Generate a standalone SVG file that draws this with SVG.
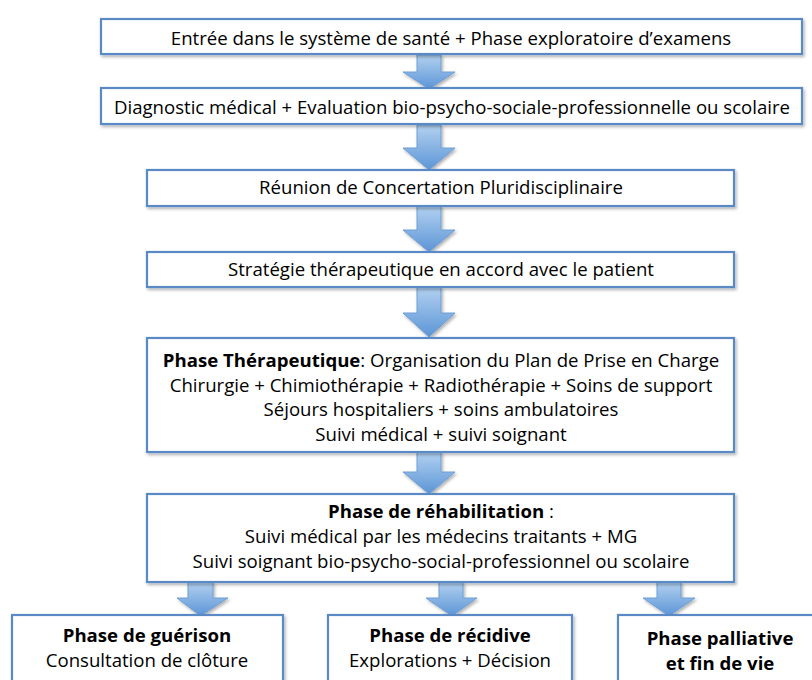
<svg xmlns="http://www.w3.org/2000/svg" width="812" height="680" viewBox="0 0 812 680">
<defs>
<filter id="sh" x="-10%" y="-10%" width="120%" height="130%">
<feDropShadow dx="1.5" dy="2" stdDeviation="1.5" flood-color="#000" flood-opacity="0.3"/>
</filter>
<linearGradient id="ag" x1="0" y1="0" x2="0" y2="1">
<stop offset="0" stop-color="#b3d1f0"/>
<stop offset="1" stop-color="#5b95d6"/>
</linearGradient>
<style>
.box{fill:#fff;stroke:#5a8ac6;stroke-width:2.2;filter:url(#sh)}
.arr{fill:url(#ag);stroke:#6f9ed6;stroke-width:1;filter:url(#sh)}
text{font-family:"Open Sans",Lato,"Liberation Sans",sans-serif;font-size:18.6px;fill:#000;text-anchor:middle}
.b{font-weight:bold}
</style>
</defs>
<g id="connectors">
<path class="arr" d="M417,55 H441 V72 H455 L429,89 L403,72 H417 Z"/>
<path class="arr" d="M417,125 H441 V148 H455 L429,170 L403,148 H417 Z"/>
<path class="arr" d="M417,206 H441 V230 H455 L429,252 L403,230 H417 Z"/>
<path class="arr" d="M417,287 H441 V313 H455 L429,337 L403,313 H417 Z"/>
<path class="arr" d="M417,452 H441 V472 H455 L429,494 L403,472 H417 Z"/>
<path class="arr" d="M188,582 H213 V598 H228 L200.5,616 L177,598 H188 Z"/>
<path class="arr" d="M439,582 H463 V598 H477 L452,616 L426,598 H439 Z"/>
<path class="arr" d="M657,582 H681 V598 H695 L669,616 L643,598 H657 Z"/>
</g>
<g id="n1"><rect class="box" x="101" y="19" width="701" height="35"/><text x="451" y="45">Entrée dans le système de santé + Phase exploratoire d’examens</text></g>
<g id="n2"><rect class="box" x="101" y="88" width="701" height="36"/><text x="452" y="114">Diagnostic médical + Evaluation bio-psycho-sociale-professionnelle ou scolaire</text></g>
<g id="n3"><rect class="box" x="147" y="170" width="587" height="36"/><text x="441" y="194">Réunion de Concertation Pluridisciplinaire</text></g>
<g id="n4"><rect class="box" x="147" y="252" width="587" height="35"/><text x="441" y="276">Stratégie thérapeutique en accord avec le patient</text></g>
<g id="n5"><rect class="box" x="147" y="338" width="587" height="114"/>
<text x="441" y="367"><tspan class="b">Phase Thérapeutique</tspan>: Organisation du Plan de Prise en Charge</text>
<text x="441" y="392">Chirurgie + Chimiothérapie + Radiothérapie + Soins de support</text>
<text x="441" y="416">Séjours hospitaliers + soins ambulatoires</text>
<text x="441" y="441">Suivi médical + suivi soignant</text></g>
<g id="n6"><rect class="box" x="147" y="494" width="587" height="88"/>
<text x="441" y="518"><tspan class="b">Phase de réhabilitation</tspan> :</text>
<text x="441" y="543">Suivi médical par les médecins traitants + MG</text>
<text x="441" y="568">Suivi soignant bio-psycho-social-professionnel ou scolaire</text></g>
<g id="n7"><rect class="box" x="12" y="615" width="271" height="80"/>
<text class="b" x="147" y="642">Phase de guérison</text>
<text x="147" y="667">Consultation de clôture</text></g>
<g id="n8"><rect class="box" x="328" y="615" width="244" height="80"/>
<text class="b" x="450" y="642">Phase de récidive</text>
<text x="450" y="667">Explorations + Décision</text></g>
<g id="n9"><rect class="box" x="618" y="615" width="210" height="80"/>
<text class="b" x="720" y="645">Phase palliative</text>
<text class="b" x="720" y="670">et fin de vie</text></g>
</svg>
